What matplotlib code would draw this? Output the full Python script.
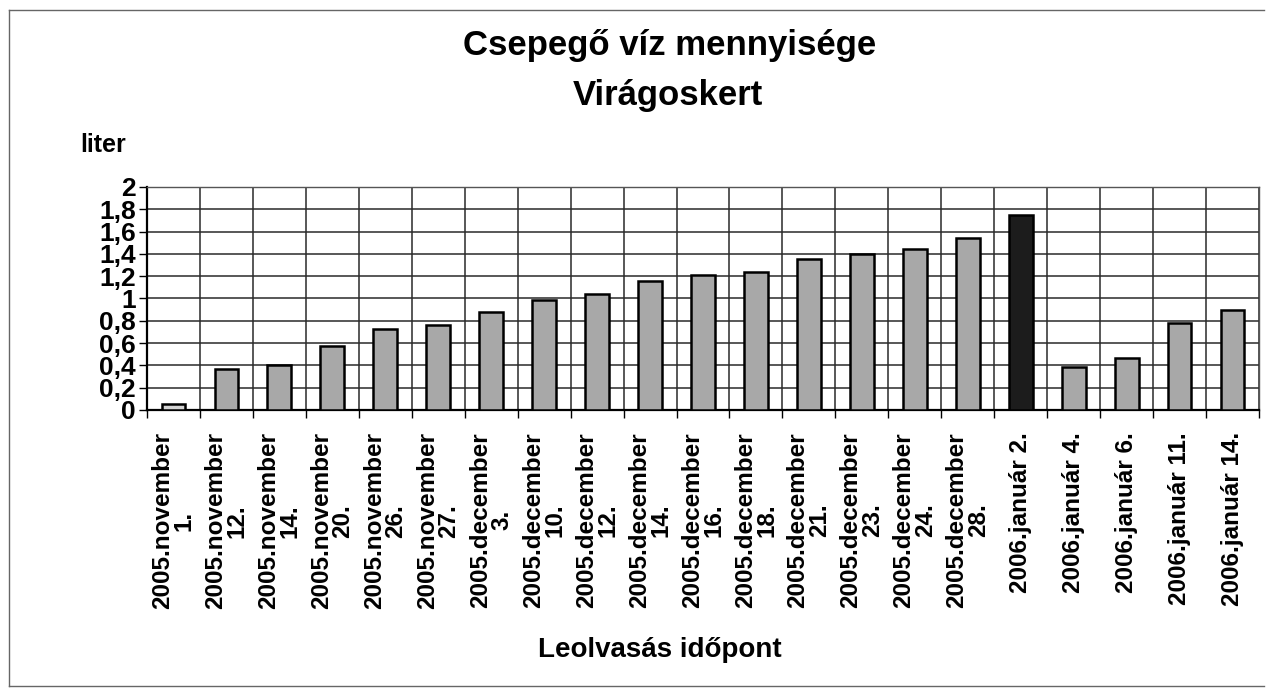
import matplotlib
matplotlib.use("Agg")
import matplotlib.pyplot as plt
from matplotlib.lines import Line2D
import numpy as np

plt.rcParams['font.family'] = ['Liberation Sans', 'DejaVu Sans']

categories = [
    "2005.november\n1.", "2005.november\n12.", "2005.november\n14.", "2005.november\n20.",
    "2005.november\n26.", "2005.november\n27.", "2005.december\n3.", "2005.december\n10.",
    "2005.december\n12.", "2005.december\n14.", "2005.december\n16.", "2005.december\n18.",
    "2005.december\n21.", "2005.december\n23.", "2005.december\n24.", "2005.december\n28.",
    "2006.január 2.", "2006.január 4.", "2006.január 6.", "2006.január 11.", "2006.január 14.",
]
values = [0.05, 0.37, 0.40, 0.57, 0.73, 0.76, 0.88, 0.99, 1.04, 1.16, 1.21, 1.24,
          1.35, 1.40, 1.44, 1.54, 1.75, 0.39, 0.47, 0.78, 0.90]
yticks = [0, 0.2, 0.4, 0.6, 0.8, 1.0, 1.2, 1.4, 1.6, 1.8, 2.0]
ytick_labels = ["0", "0,2", "0,4", "0,6", "0,8", "1", "1,2", "1,4", "1,6", "1,8", "2"]
highlight = "2006.január 2."

W, H = 1268, 688
fig = plt.figure(figsize=(W / 100, H / 100), dpi=100)
fig.patch.set_facecolor("white")

left, right, top, bottom = 147, 1259, 187, 410
ax = fig.add_axes([left / W, 1 - bottom / H, (right - left) / W, (bottom - top) / H])

x = np.arange(len(categories))
colors = []
for c, v in zip(categories, values):
    if c == highlight:
        colors.append("#1c1c1c")
    elif v < 0.1:
        colors.append("#d4d4d4")
    else:
        colors.append("#a8a8a8")
ax.bar(x, values, width=0.45, color=colors, edgecolor="black", linewidth=1.8, zorder=3)

ax.set_xlim(-0.5, len(categories) - 0.5)
ax.set_ylim(0, 2)
ax.set_yticks(yticks)
ax.set_yticklabels(ytick_labels, fontsize=19, fontweight="bold")
ax.set_xticks(x)
ax.set_xticklabels(categories, rotation=90, fontsize=17.5, fontweight="bold",
                   linespacing=0.92, ha="center", va="top", multialignment="center")
ax.tick_params(axis="x", length=0, pad=16)
ax.set_xticks(np.arange(-0.5, len(categories), 1), minor=True)
ax.tick_params(axis="x", which="minor", length=6, width=1, color="black")
ax.tick_params(axis="y", length=6, width=1, pad=2)

ax.grid(True, axis="y", which="major", color="#2a2a2a", linewidth=1.1, zorder=0)
ax.grid(True, axis="x", which="minor", color="#2a2a2a", linewidth=1.1, zorder=0)
ax.grid(False, axis="x", which="major")
for s in ["top", "right"]:
    ax.spines[s].set_color("#555555")
    ax.spines[s].set_linewidth(1.0)
for s in ["left", "bottom"]:
    ax.spines[s].set_color("black")
    ax.spines[s].set_linewidth(1.6)

fig.text(670 / W, 1 - 45 / H, "Csepegő víz mennyisége", ha="center", va="center",
         fontsize=25, fontweight="bold")
fig.text(668 / W, 1 - 95 / H, "Virágoskert", ha="center", va="center",
         fontsize=25, fontweight="bold")
fig.text(80 / W, 1 - 145 / H, "liter", ha="left", va="center", fontsize=18, fontweight="bold")
fig.text(660 / W, 1 - 650 / H, "Leolvasás időpont", ha="center", va="center",
         fontsize=20, fontweight="bold")

# outer frame
fc = "#666666"
fig.add_artist(Line2D([9 / W, 1264 / W], [1 - 10 / H, 1 - 10 / H], color=fc, lw=1.0, transform=fig.transFigure))
fig.add_artist(Line2D([9 / W, 9 / W], [1 - 10 / H, 1 - 686 / H], color=fc, lw=1.0, transform=fig.transFigure))
fig.add_artist(Line2D([9 / W, 1264 / W], [1 - 686 / H, 1 - 686 / H], color=fc, lw=1.0, transform=fig.transFigure))

fig.savefig("out.png", dpi=100, facecolor="white")
